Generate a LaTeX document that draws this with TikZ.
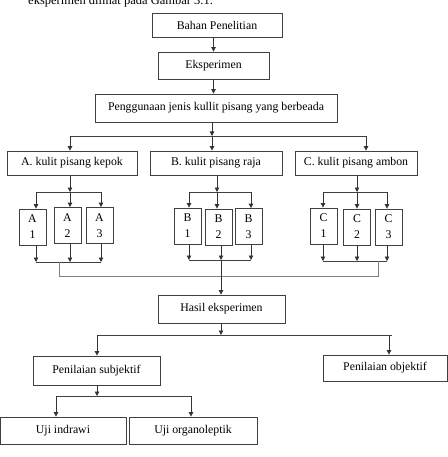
\documentclass[tikz,border=0pt]{standalone}
\usepackage{fontspec}
\setmainfont{Liberation Serif}
\usetikzlibrary {arrows.meta,
                 positioning}
\tikzset{
        base/.style={draw=black!75, line width=0.8pt, align=center, inner sep=0pt,
                     font=\fontsize{11.8}{16}\selectfont},
        proc/.style={base, rectangle},
        small/.style={base, minimum width=27pt, minimum height=36pt},
        myarrow/.style={-{Triangle[length=4.5pt,width=4.5pt]}, draw=black!80, line width=0.8pt},
        myline/.style={draw=black!75, line width=0.8pt},
        fadeline/.style={draw=black!50, line width=0.8pt},
 }
\begin{document}
\begin{tikzpicture}[x=1pt,y=-1pt]
    \useasboundingbox (0,0) rectangle (447,457);
    \node[anchor=base west, inner sep=0pt, font=\fontsize{12.5}{15}\selectfont] (intro) at (28,4.5)
        {eksperimen dilihat pada Gambar 3.1.};

    \node[proc, minimum width=130pt, minimum height=24pt] (bahan) at (217,25) {Bahan Penelitian};
    \node[proc, minimum width=111pt, minimum height=27pt] (eksp) at (213.5,65.5) {Eksperimen};
    \node[proc, minimum width=242pt, minimum height=28pt] (guna) at (216,108) {Penggunaan jenis kullit pisang yang berbeada};

    \node[proc, minimum width=130pt, minimum height=24pt] (kepok) at (72,163) {A. kulit pisang kepok};
    \node[proc, minimum width=132pt, minimum height=24pt] (raja) at (216,163) {B. kulit pisang raja};
    \node[proc, minimum width=122pt, minimum height=24pt] (ambon) at (356,163) {C. kulit pisang ambon};

    \node[small] (a1) at (32.5,227) {A\\1};
    \node[small] (a2) at (67.5,225.5) {A\\2};
    \node[small] (a3) at (99.5,225.5) {A\\3};
    \node[small] (b1) at (187.5,226) {B\\1};
    \node[small] (b2) at (218.5,227) {B\\2};
    \node[small] (b3) at (248.5,226.5) {B\\3};
    \node[small] (c1) at (323.5,226) {C\\1};
    \node[small] (c2) at (357,227) {C\\2};
    \node[small] (c3) at (388.5,227) {C\\3};

    \node[proc, minimum width=127pt, minimum height=28pt] (hasil) at (221.5,309) {Hasil eksperimen};
    \node[proc, minimum width=127pt, minimum height=29pt] (subj) at (96.5,370.5) {Penilaian subjektif};
    \node[proc, minimum width=124pt, minimum height=26pt] (obj) at (385,368) {Penilaian objektif};
    \node[proc, minimum width=126pt, minimum height=27pt] (indra) at (63,430.5) {Uji indrawi};
    \node[proc, minimum width=128pt, minimum height=27pt] (organo) at (193,430.5) {Uji organoleptik};

    % split points
    \coordinate (s0) at (212,136);  \coordinate (sA) at (70,136);   \coordinate (sC) at (366,136);
    \coordinate (ta) at (70,192);   \coordinate (ta1) at (36,192);  \coordinate (ta3) at (101,192);
    \coordinate (tb) at (217,192);  \coordinate (tb1) at (189,192); \coordinate (tb3) at (251,192);
    \coordinate (tc) at (357,192);  \coordinate (tc1) at (323,192); \coordinate (tc3) at (387,192);
    \coordinate (ua1) at (36,262);  \coordinate (ua2) at (70,262);  \coordinate (ua3) at (101,262);
    \coordinate (ub1) at (189,260); \coordinate (ub2) at (221,260); \coordinate (ub3) at (251,260);
    \coordinate (uc1) at (323,261); \coordinate (uc2) at (357,261); \coordinate (uc3) at (387,261);
    \coordinate (kA) at (59,262);   \coordinate (kC) at (378,261);
    \coordinate (sh) at (221,335);  \coordinate (sh1) at (97,335);  \coordinate (sh2) at (389,335);
    \coordinate (ss) at (97,396);   \coordinate (ss1) at (56,396);  \coordinate (ss2) at (191,396);

    \draw[myarrow] (eksp.north |- bahan.south) -- (eksp.north);
    \draw[myarrow] (eksp.south) -- (eksp.south |- guna.north);

    \draw[myarrow] (guna.south -| s0) -- (s0);
    \draw[myline] (sA) -- (sC);
    \draw[myarrow] (sA) -- (sA |- kepok.north);
    \draw[myarrow] (s0) -- (s0 |- raja.north);
    \draw[myarrow] (sC) -- (sC |- ambon.north);

    % A
    \draw[myarrow] (kepok.south -| ta) -- (ta);
    \draw[myline] (ta1) -- (ta3);
    \draw[myarrow] (ta1) -- (ta1 |- a1.north);
    \draw[myarrow] (ta) -- (ta |- a2.north);
    \draw[myarrow] (ta3) -- (ta3 |- a3.north);
    \draw[myarrow] (a1.south -| ua1) -- (ua1);
    \draw[myarrow] (a2.south -| ua2) -- (ua2);
    \draw[myarrow] (a3.south -| ua3) -- (ua3);
    \draw[myline] (ua1) -- (ua3);

    % B
    \draw[myarrow] (raja.south -| tb) -- (tb);
    \draw[myline] (tb1) -- (tb3);
    \draw[myarrow] (tb1) -- (tb1 |- b1.north);
    \draw[myarrow] (tb) -- (tb |- b2.north);
    \draw[myarrow] (tb3) -- (tb3 |- b3.north);
    \draw[myarrow] (b1.south -| ub1) -- (ub1);
    \draw[myarrow] (b2.south -| ub2) -- (ub2);
    \draw[myarrow] (b3.south -| ub3) -- (ub3);
    \draw[myline] (ub1) -- (ub3);

    % C
    \draw[myarrow] (ambon.south -| tc) -- (tc);
    \draw[myline] (tc1) -- (tc3);
    \draw[myarrow] (tc1) -- (tc1 |- c1.north);
    \draw[myarrow] (tc) -- (tc |- c2.north);
    \draw[myarrow] (tc3) -- (tc3 |- c3.north);
    \draw[myarrow] (c1.south -| uc1) -- (uc1);
    \draw[myarrow] (c2.south -| uc2) -- (uc2);
    \draw[myarrow] (c3.south -| uc3) -- (uc3);
    \draw[myline] (uc1) -- (uc3);

    % collect
    \draw[fadeline] (kA) -- ++(0,14) -| (kC);
    \draw[myarrow] (ub2) -- (ub2 |- hasil.north);

    \draw[myarrow] (hasil.south -| sh) -- (sh);
    \draw[myline] (sh1) -- ++(295,0);
    \draw[myarrow] (sh1) -- (sh1 |- subj.north);
    \draw[myarrow] (sh2) -- (sh2 |- obj.north);

    \draw[myarrow] (subj.south -| ss) -- (ss);
    \draw[myline] (ss1) -- (ss2);
    \draw[myarrow] (ss1) -- (ss1 |- indra.north);
    \draw[myarrow] (ss2) -- (ss2 |- organo.north);
\end{tikzpicture}
\end{document}
